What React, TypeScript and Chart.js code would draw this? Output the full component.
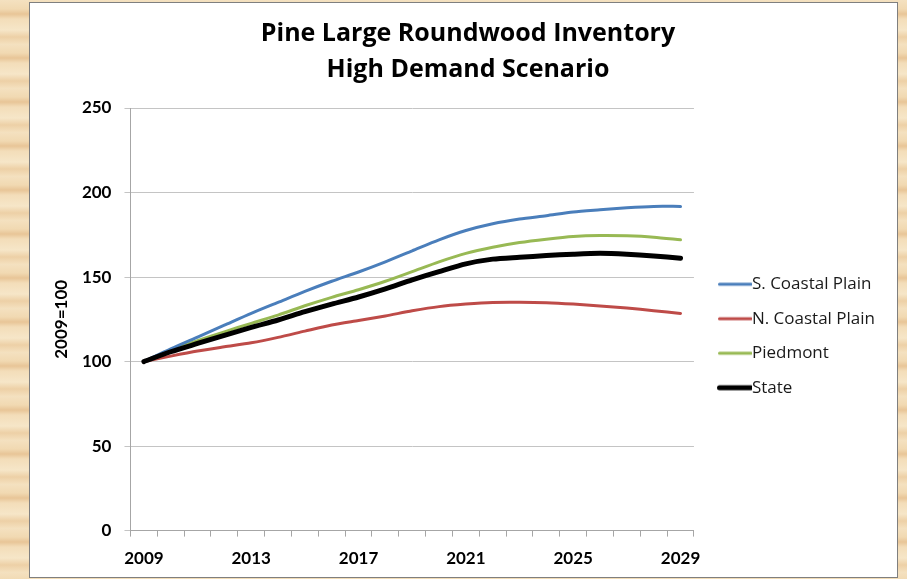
import React, { useEffect, useRef } from 'react';
import { Chart, registerables } from 'chart.js';
Chart.register(...registerables);

const years = ['2009','2010','2011','2012','2013','2014','2015','2016','2017','2018','2019','2020','2021','2022','2023','2024','2025','2026','2027','2028','2029'];
const sCoastalPlain = [100, 107.5, 114.5, 121.5, 128.5, 135, 141.5, 147.5, 153, 159, 165.5, 172, 177.5, 181.5, 184.3, 186.3, 188.5, 189.8, 191, 191.8, 191.8];
const nCoastalPlain = [100, 103.2, 106.2, 108.7, 111.1, 114.3, 118, 121.6, 124.3, 127, 130, 132.5, 134, 135, 135.1, 134.8, 134, 132.9, 131.7, 130.1, 128.5];
const piedmont = [100, 106.8, 112.3, 117.6, 122.6, 127.5, 133, 138, 142.5, 147.5, 153.2, 159, 164, 167.6, 170.4, 172.4, 174, 174.6, 174.4, 173.6, 172];
const stateTotal = [100, 105.8, 110.7, 115.5, 120.2, 124.6, 129.5, 134, 138.2, 143, 148.3, 153.2, 157.8, 160.6, 161.7, 162.7, 163.5, 164, 163.5, 162.5, 161.1];
const titleLines = ['Pine Large Roundwood Inventory', 'High Demand Scenario'];
const yAxisTitle = '2009=100';

const TICK_FONT = 'Lato';
const TEXT_FONT = '"Open Sans"';
const LEGEND_FONT = 17;
const BOX_W = 32;

function legendLine(color: string, lw: number): HTMLCanvasElement {
  const half = LEGEND_FONT / 2;
  const c = document.createElement('canvas');
  c.width = Math.round(BOX_W + 2 * half);
  c.height = 10;
  const ctx = c.getContext('2d')!;
  ctx.strokeStyle = color;
  ctx.lineWidth = lw;
  ctx.lineCap = 'round';
  ctx.beginPath();
  ctx.moveTo(half + 8, 5);
  ctx.lineTo(c.width - 1, 5);
  ctx.stroke();
  return c;
}

export default function App() {
  const ref = useRef<HTMLCanvasElement>(null);
  useEffect(() => {
    const series = [
      { label: 'S. Coastal Plain', data: sCoastalPlain, color: '#4A7EBB', w: 3, order: 1 },
      { label: 'N. Coastal Plain', data: nCoastalPlain, color: '#BE4B48', w: 3, order: 1 },
      { label: 'Piedmont', data: piedmont, color: '#98B954', w: 3, order: 1 },
      { label: 'State', data: stateTotal, color: '#000000', w: 5, order: 0 },
    ];
    const images = series.map(s => legendLine(s.color, s.w));
    const chart = new Chart(ref.current!, {
      type: 'line',
      data: {
        labels: years,
        datasets: series.map(s => ({
          label: s.label,
          data: s.data,
          borderColor: s.color,
          backgroundColor: s.color,
          borderWidth: s.w,
          pointRadius: 0,
          tension: 0.25,
          borderCapStyle: 'round',
          order: s.order,
        })),
      },
      options: {
        animation: false,
        responsive: false,
        layout: { padding: { left: 21, right: 12, top: 0, bottom: -4 } },
        plugins: {
          title: {
            display: true,
            text: titleLines,
            color: '#000',
            font: { family: TEXT_FONT, size: 25, weight: 'bold', lineHeight: 1.44 },
            padding: { top: 13, bottom: 20 },
          },
          legend: {
            position: 'right',
            title: { display: true, text: ' ', font: { size: 10, lineHeight: 1.2 }, padding: 38 },
            labels: {
              usePointStyle: true,
              pointStyleWidth: BOX_W,
              padding: 17.5,
              color: '#1a1a1a',
              font: { family: TEXT_FONT, size: LEGEND_FONT },
              sort: (a: any, b: any) => a.datasetIndex - b.datasetIndex,
              generateLabels: (c: any) => {
                const items = (Chart.defaults.plugins.legend.labels as any).generateLabels(c);
                return items.map((it: any) => ({ ...it, pointStyle: images[it.datasetIndex] }));
              },
            },
          },
          tooltip: { enabled: false },
        },
        scales: {
          x: {
            offset: true,
            grid: { display: true, drawOnChartArea: false, offset: true, tickLength: 6, color: '#A6A6A6' },
            border: { display: true, color: '#A6A6A6' },
            ticks: {
              autoSkip: false,
              maxRotation: 0,
              padding: 12,
              color: '#000',
              font: { family: TICK_FONT, size: 17, weight: 'bold' },
              callback: (_v: any, i: number) => (i % 4 === 0 ? years[i] : ''),
            },
          },
          y: {
            min: 0,
            max: 250,
            grid: { color: '#C4C4C4', tickLength: 6 },
            border: { display: true, color: '#A6A6A6' },
            ticks: {
              stepSize: 50,
              padding: 13,
              color: '#000',
              font: { family: TICK_FONT, size: 17, weight: 'bold' },
            },
            title: {
              display: true,
              text: yAxisTitle,
              color: '#000',
              font: { family: TICK_FONT, size: 17, weight: 'bold', lineHeight: 1.2 },
              padding: { top: 0, bottom: -2.5 },
            },
          },
        },
      },
    });
    return () => chart.destroy();
  }, []);

  const wood = 'repeating-linear-gradient(180deg, #F4E1C0 0px, #F1D9B2 9px, #E8C597 14px, #F3DDB9 19px, #F6E6C8 30px, #EDD0A6 37px, #F4E0BE 44px)';
  return (
    <div style={{ position: 'fixed', left: 0, top: 0, width: 907, height: 579, background: wood }}>
      <div style={{ position: 'absolute', left: 29, top: 2, width: 869, height: 576, boxSizing: 'border-box', border: '1px solid #7F7F7F', background: '#fff' }}>
        <canvas ref={ref} width={867} height={574} style={{ display: 'block' }} />
      </div>
    </div>
  );
}
